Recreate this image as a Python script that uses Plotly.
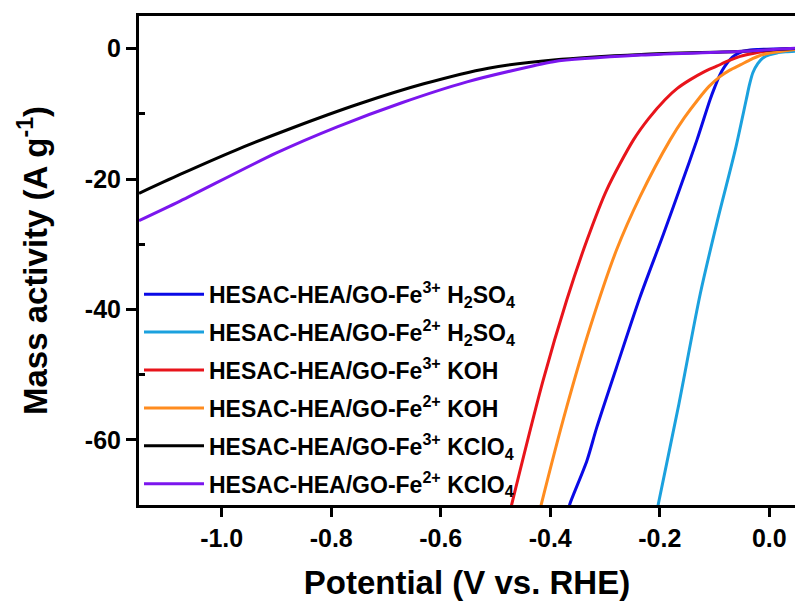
import plotly.graph_objects as go

# ---- data ----
v_fe3_h2so4 = [-0.366, -0.364, -0.333, -0.315, -0.279, -0.236, -0.193, -0.160, -0.132, -0.108, -0.099, -0.090, -0.081, -0.072, -0.062, -0.048, -0.035, -0.020, 0.007, 0.047]
i_fe3_h2so4 = [-70.5, -69.8, -63.2, -58.1, -48.9, -38.1, -28.4, -20.7, -14.0, -7.8, -5.8, -4.0, -2.7, -1.7, -1.0, -0.4, -0.2, -0.12, -0.05, 0.0]

v_fe2_h2so4 = [-0.204, -0.2025, -0.165, -0.126, -0.095, -0.062, -0.042, -0.036, -0.030, -0.021, -0.011, 0.000, 0.014, 0.030, 0.047]
i_fe2_h2so4 = [-70.5, -69.8, -54.5, -37.6, -26.5, -15.5, -7.8, -5.5, -3.7, -2.3, -1.4, -0.95, -0.66, -0.5, -0.4]

v_fe3_koh = [-0.472, -0.470, -0.413, -0.370, -0.333, -0.297, -0.248, -0.220, -0.190, -0.168, -0.145, -0.120, -0.096, -0.075, -0.053, -0.030, -0.005, 0.047]
i_fe3_koh = [-70.5, -69.8, -50.9, -38.6, -29.4, -21.7, -14.0, -10.7, -7.8, -6.1, -4.8, -3.6, -2.7, -1.9, -1.2, -0.75, -0.4, -0.1]

v_fe2_koh = [-0.418, -0.416, -0.370, -0.327, -0.279, -0.236, -0.181, -0.155, -0.130, -0.110, -0.090, -0.072, -0.053, -0.032, -0.011, 0.047]
i_fe2_koh = [-70.5, -69.8, -55.0, -42.7, -30.9, -22.7, -14.0, -10.6, -7.8, -5.8, -4.3, -3.3, -2.5, -1.6, -0.9, -0.15]

v_fe3_kclo4 = [-1.151, -1.076, -0.975, -0.869, -0.750, -0.631, -0.513, -0.394, -0.234, -0.046, 0.047]
i_fe3_kclo4 = [-22.2, -19.3, -15.6, -12.1, -8.5, -5.4, -3.0, -1.75, -0.9, -0.4, 0.0]

v_fe2_kclo4 = [-1.151, -1.076, -0.900, -0.789, -0.671, -0.552, -0.434, -0.394, -0.234, -0.046, 0.047]
i_fe2_kclo4 = [-26.4, -23.4, -16.0, -12.0, -8.3, -5.1, -2.7, -2.0, -1.0, -0.4, 0.05]

series_names = [
    "HESAC-HEA/GO-Fe<sup>3+</sup> H<sub>2</sub>SO<sub>4</sub>",
    "HESAC-HEA/GO-Fe<sup>2+</sup> H<sub>2</sub>SO<sub>4</sub>",
    "HESAC-HEA/GO-Fe<sup>3+</sup> KOH",
    "HESAC-HEA/GO-Fe<sup>2+</sup> KOH",
    "HESAC-HEA/GO-Fe<sup>3+</sup> KClO<sub>4</sub>",
    "HESAC-HEA/GO-Fe<sup>2+</sup> KClO<sub>4</sub>",
]
series_colors = ["#0A0AE6", "#1BA1DE", "#E8141B", "#FF8C1F", "#000000", "#7B16EE"]

x_tickvals = [-1.0, -0.8, -0.6, -0.4, -0.2, 0.0]
x_ticktext = ["-1.0", "-0.8", "-0.6", "-0.4", "-0.2", "0.0"]
y_tickvals = [0, -20, -40, -60]
y_ticktext = ["0", "-20", "-40", "-60"]
y_minorvals = [-10, -30, -50]

xs = [v_fe3_h2so4, v_fe2_h2so4, v_fe3_koh, v_fe2_koh, v_fe3_kclo4, v_fe2_kclo4]
ys = [i_fe3_h2so4, i_fe2_h2so4, i_fe3_koh, i_fe2_koh, i_fe3_kclo4, i_fe2_kclo4]

FONT = "Liberation Sans, Arial, sans-serif"

fig = go.Figure()
for k, (x, y, name, color) in enumerate(zip(xs, ys, series_names, series_colors)):
    fig.add_trace(go.Scatter(
        x=x, y=y, name=name, mode="lines", legendgroup=f"g{k}",
        line=dict(color=color, width=3, shape="spline", smoothing=0.8),
    ))

fig.update_layout(
    width=795, height=606,
    margin=dict(l=139, r=0, t=16, b=101),
    paper_bgcolor="white", plot_bgcolor="white",
    font=dict(family=FONT, color="black", weight="bold"),
    showlegend=True,
    legend=dict(
        x=0.0, y=0.475, xanchor="left", yanchor="top",
        bgcolor="rgba(0,0,0,0)",
        font=dict(family=FONT, size=23, color="black", weight="bold"),
        itemwidth=60,
        tracegroupgap=5,
    ),
    xaxis=dict(
        range=[-1.151, 0.047],
        showline=True, linecolor="black", linewidth=3, mirror=True,
        ticks="outside", ticklen=9, tickwidth=3, tickcolor="black",
        tickvals=x_tickvals, ticktext=x_ticktext,
        tickfont=dict(family=FONT, size=25, color="black", weight="bold"),
        showgrid=False, zeroline=False,
        title=dict(text="Potential (V vs. RHE)",
                   font=dict(family=FONT, size=33, color="black", weight="bold"),
                   standoff=20),
    ),
    yaxis=dict(
        range=[-70, 5],
        showline=True, linecolor="black", linewidth=3, mirror=False,
        ticks="outside", ticklen=10, tickwidth=3, tickcolor="black",
        tickvals=y_tickvals, ticktext=y_ticktext,
        tickfont=dict(family=FONT, size=25, color="black", weight="bold"),
        minor=dict(ticks="inside", ticklen=6, tickwidth=3, tickcolor="black",
                   tickvals=y_minorvals, showgrid=False),
        showgrid=False, zeroline=False,
        title=dict(text="Mass activity (A g<sup>-1</sup>)",
                   font=dict(family=FONT, size=33, color="black", weight="bold"),
                   standoff=28),
    ),
)

fig.write_html("out.html")
